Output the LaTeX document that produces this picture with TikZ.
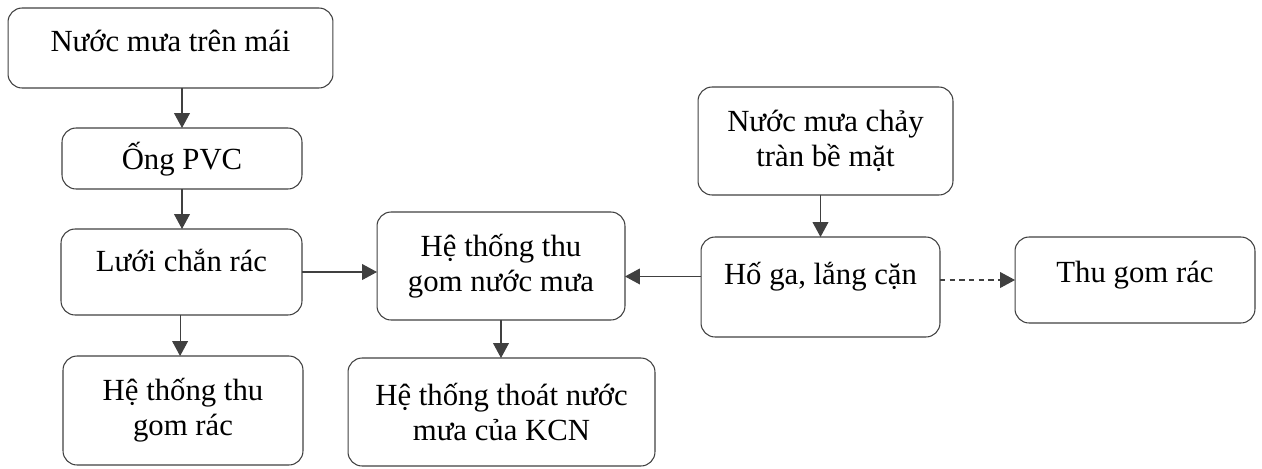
\documentclass[tikz,border=0pt]{standalone}
\usepackage{fontspec}
\setmainfont{Liberation Serif}
\usetikzlibrary{arrows.meta,positioning}
\tikzset{
  box/.style={draw=black!75, line width=0.6pt, rounded corners=8pt, inner sep=0pt, outer sep=0pt, align=center, font=\fontsize{17.5}{20}\selectfont},
  oneline/.style={text height=12pt, text depth=#1},
  flow/.style={->, draw=black!75, line width=0.6pt}
}
\begin{document}
\begin{tikzpicture}[x=0.02cm, y=-0.02cm, >={Triangle[length=8.5pt,width=9pt]}]
\useasboundingbox (0,0) rectangle (1262,468);
\node[box, oneline=7.7pt, minimum width=6.5cm, minimum height=1.6cm] (roof) at (170.5,48) {Nước mưa trên mái};
\node[box, oneline=-1pt, minimum width=4.8cm, minimum height=1.22cm] (pvc) at (182,158.5) {Ống PVC};
\node[box, oneline=12.2pt, minimum width=4.82cm, minimum height=1.72cm] (net) at (181.5,272) {Lưới chắn rác};
\node[box, minimum width=4.8cm, minimum height=2.18cm] (trashsys) at (183,410.5) {Hệ thống thu\\gom rác};
\node[box, minimum width=4.96cm, minimum height=2.16cm] (collect) at (501,266) {Hệ thống thu\\gom nước mưa};
\node[box, minimum width=6.14cm, minimum height=2.16cm] (drain) at (501.5,412) {Hệ thống thoát nước\\mưa của KCN};
\node[box, minimum width=5.1cm, minimum height=2.16cm] (surface) at (825.5,141) {Nước mưa chảy\\tràn bề mặt};
\node[box, oneline=14.5pt, minimum width=4.78cm, minimum height=2cm] (pit) at (820.5,287) {Hố ga, lắng cặn};
\node[box, oneline=9pt, minimum width=4.8cm, minimum height=1.72cm] (trash) at (1135,280) {Thu gom rác};
\draw[flow] (roof.south -| pvc.north) -- (pvc.north);
\draw[flow] (pvc.south) -- (pvc.south |- net.north);
\draw[flow] ([xshift=-0.8pt]net.south) -- ([xshift=-0.8pt]net.south |- trashsys.north);
\draw[flow] (net.east) -- (net.east -| collect.west);
\draw[flow] ([yshift=6pt]pit.west) -- ([yshift=6pt]pit.west -| collect.east);
\draw[flow] (collect.south) -- (collect.south |- drain.north);
\draw[flow] (surface.south -| pit.north) -- (pit.north);
\draw[flow, dashed, dash pattern=on 3pt off 2.5pt] (trash.west -| pit.east) -- (trash.west);
\end{tikzpicture}
\end{document}
